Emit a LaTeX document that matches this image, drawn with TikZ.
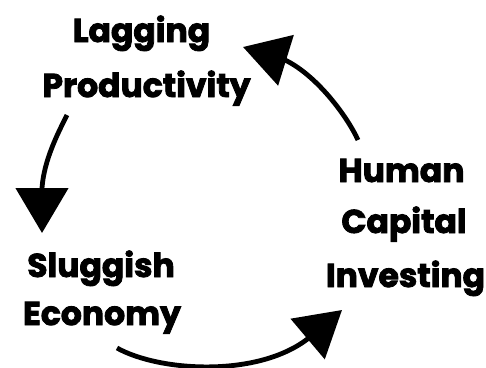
\documentclass[tikz,border=0pt]{standalone}
\usepackage{fontspec}
\setmainfont{Poppins}[BoldFeatures={FakeBold=2.5}]
\usetikzlibrary{arrows.meta}
\tikzset{
  lbl/.style={anchor=base, inner sep=0pt, font=\fontsize{33}{33}\selectfont\bfseries},
  arr/.style={line width=4.8pt, -{Triangle[length=45pt,width=52pt]}}
}
\begin{document}
\begin{tikzpicture}[x=1pt,y=-1pt]
\useasboundingbox (0,0) rectangle (486,367);
\node[lbl] (lag)  at (141.5,42) {Lagging};
\node[lbl] (prod) at (146.5,97) {Productivity};
\node[lbl] (hum)  at (401.5,182) {Human};
\node[lbl] (cap)  at (404,233) {Capital};
\node[lbl] (inv)  at (405.5,287) {Investing};
\node[lbl] (slu)  at (101,277) {Sluggish};
\node[lbl] (eco)  at (102,325) {Economy};
\coordinate (a1s) at (67,115);  \coordinate (a1b) at (42,188); \coordinate (a1t) at (42,233);
\coordinate (a2s) at (117,348); \coordinate (a2b) at (310,337); \coordinate (a2t) at (342,310);
\coordinate (a3s) at (358,140); \coordinate (a3b) at (285,60);  \coordinate (a3t) at (243,47);
\draw[arr] (a1s) .. controls (58,133) and (44,160) .. (a1b) -- (a1t);
\draw[arr] (a2s) .. controls (160,372) and (260,378) .. (a2b) -- (a2t);
\draw[arr] (a3s) .. controls (348,118) and (318,76) .. (a3b) -- (a3t);
\end{tikzpicture}
\end{document}
